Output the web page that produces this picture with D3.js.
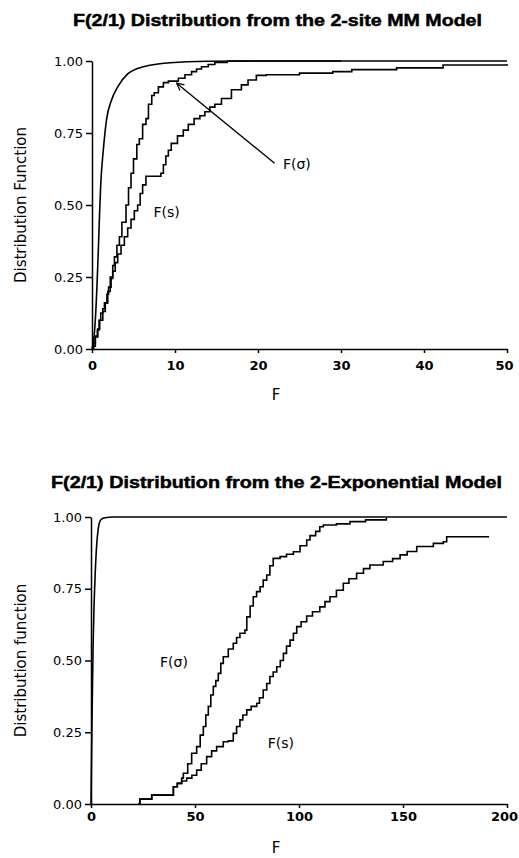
<!DOCTYPE html>
<html>
<head>
<meta charset="utf-8">
<script src="https://cdn.jsdelivr.net/npm/d3@7"></script>
<style>
  body { margin: 0; background: #fff; }
  svg { display: block; }
  .tick text { font-family: "DejaVu Sans", sans-serif; font-size: 13px; fill: #000; }
  .axis path, .axis line { stroke: #000; stroke-width: 1.5px; }
  .curve { fill: none; stroke: #000; stroke-width: 1.6px; }
  .title { font-family: "Liberation Sans", Arial, sans-serif; font-weight: bold; font-size: 17px;
           stroke: #000; stroke-width: 0.5px; }
  .lab { font-family: "DejaVu Sans", sans-serif; font-size: 15px; }
  .note { font-family: "DejaVu Sans", sans-serif; font-size: 14px; }
</style>
</head>
<body>
<svg id="chart" width="519" height="858"></svg>
<script>
/*------------------------
  -------- DATA ----------
  ------------------------*/

// top panel : 2-site MM model, F from 0 to 50
var mm_ticks_x = [0, 10, 20, 30, 40, 50];
var mm_theory = [[0,0],[0.2,0.03],[0.4,0.1],[0.6,0.22],[0.76,0.34],[0.9,0.46],[1.05,0.57],
    [1.36,0.69],[1.77,0.8],[2.3,0.86],[3.1,0.91],[4.3,0.955],[6.2,0.98],[9.4,0.994],[14,0.999],[20,1.0],[50,1.0]];
var mm_sigma = [[0,0],[0.1,0.01],[0.4,0.042],[0.7,0.07],[0.93,0.1],[1.3,0.13],[1.6,0.16],[1.9,0.2],
    [2.2,0.25],[2.5,0.29],[2.7,0.32],[3.0,0.36],[3.3,0.39],[3.6,0.44],[4.1,0.5],[4.4,0.56],[4.7,0.61],
    [5.0,0.66],[5.4,0.71],[5.7,0.73],[6.1,0.78],[6.5,0.8],[6.8,0.85],[7.2,0.88],[7.5,0.89],[8.0,0.91],
    [8.6,0.925],[9.2,0.93],[10.4,0.94],[11.2,0.952],[12,0.963],[12.6,0.972],[13.2,0.98],[14.0,0.988],
    [14.8,0.995],[16.3,1.0],[30,1.0]];
var mm_s = [[0,0],[0.2,0.02],[0.4,0.045],[0.64,0.066],[0.85,0.1],[1.05,0.125],[1.3,0.14],[1.5,0.16],
    [1.8,0.19],[2.0,0.215],[2.3,0.245],[2.5,0.27],[2.8,0.3],[3.1,0.33],[3.5,0.36],[3.9,0.39],[4.3,0.42],
    [4.7,0.45],[5.1,0.48],[5.5,0.5],[5.8,0.54],[6.1,0.57],[6.5,0.6],[8.3,0.61],[8.6,0.64],[8.9,0.67],
    [9.2,0.69],[9.55,0.714],[10.3,0.74],[11.0,0.76],[11.6,0.78],[12.3,0.8],[13.0,0.81],[13.6,0.824],
    [14.2,0.84],[14.8,0.85],[15.6,0.87],[16.8,0.9],[18.0,0.917],[18.8,0.934],[19.8,0.95],[21,0.952],
    [25,0.958],[29,0.963],[31.3,0.97],[36.7,0.976],[42.3,0.986],[50,0.99]];

// bottom panel : 2-exponential model, F from 0 to 200
var ex_ticks_x = [0, 50, 100, 150, 200];
var ex_theory = [[0,0],[0.5,0.3],[1,0.55],[1.5,0.7],[2,0.8],[2.7,0.9],[3.5,0.96],[4.3,0.985],
    [5.5,0.995],[7.5,0.998],[10,1],[200,1]];
var ex_sigma = [[22.7,0],[23.5,0.017],[27.6,0.017],[29.2,0.031],[38,0.031],[39.6,0.06],[41.5,0.072],
    [43.6,0.09],[44.4,0.107],[46.5,0.14],[48.4,0.177],[50.8,0.2],[52.5,0.24],[54,0.27],[55.2,0.31],
    [56.4,0.34],[57.6,0.38],[58.8,0.41],[60,0.43],[61.2,0.455],[62.4,0.49],[63.6,0.513],[66,0.54],
    [68.4,0.56],[70,0.58],[71.6,0.595],[74,0.606],[74.9,0.652],[76.5,0.69],[78,0.722],[79.6,0.74],
    [81.3,0.757],[82.8,0.78],[84.5,0.798],[86,0.83],[87.6,0.856],[90.9,0.862],[94,0.87],[97.3,0.879],
    [100.5,0.9],[103.7,0.92],[105.3,0.935],[108,0.95],[110,0.966],[111.7,0.972],[118,0.976],
    [124.5,0.984],[132,0.99],[142,0.997]];
var ex_s = [[22.7,0],[23.5,0.017],[27.6,0.017],[29.2,0.031],[38,0.031],[39.6,0.06],[41.5,0.072],
    [43.6,0.08],[46,0.09],[48.5,0.1],[50.8,0.118],[53,0.14],[55.6,0.165],[58,0.185],[60.4,0.2],
    [63.6,0.217],[66,0.22],[68.4,0.246],[70,0.27],[71.6,0.293],[73,0.31],[74.9,0.328],[77,0.34],
    [79.7,0.351],[81,0.37],[82.8,0.397],[84.5,0.42],[86,0.444],[87.6,0.46],[89.3,0.478],[91,0.5],
    [92.5,0.525],[94,0.55],[95.7,0.571],[97.3,0.595],[98.9,0.618],[101,0.635],[103.7,0.655],
    [106.5,0.67],[110,0.687],[112.5,0.705],[114.9,0.722],[118,0.745],[121.3,0.769],[124,0.785],
    [127.7,0.804],[131,0.82],[134.1,0.833],[140.5,0.845],[145,0.855],[148.6,0.868],[152,0.88],
    [156.6,0.897],[164.6,0.908],[169.4,0.914],[171,0.931],[191,0.934]];

var ticks_y = [0, 0.25, 0.5, 0.75, 1];

/*---------------------
  -- DISPLAY HELPERS --
  ---------------------*/
var svg = d3.select("#chart");

svg.append("defs").append("marker")
    .attr("id", "arrow")
    .attr("viewBox", "0 0 10 10")
    .attr("refX", 9).attr("refY", 5)
    .attr("markerWidth", 9).attr("markerHeight", 9)
    .attr("markerUnits", "userSpaceOnUse")
    .attr("orient", "auto")
    .append("path")
    .attr("d", "M1,1 L9,5 L1,9")
    .attr("fill", "none")
    .attr("stroke", "#000")
    .attr("stroke-width", 1.4);

function draw_panel(p) {
    var x = d3.scaleLinear().domain(p.xdom).range([p.left, p.right]);
    var y = d3.scaleLinear().domain([0, 1]).range([p.bottom, p.top]);
    var g = svg.append("g");

    g.append("text")
        .attr("class", "title")
        .attr("x", p.title_x).attr("y", p.title_y)
        .attr("textLength", p.title_w)
        .attr("lengthAdjust", "spacingAndGlyphs")
        .text(p.title);

    g.append("g")
        .attr("class", "axis")
        .attr("transform", "translate(" + p.left + ",0)")
        .call(d3.axisLeft(y).tickValues(ticks_y).tickFormat(d3.format(".2f"))
            .tickSize(6).tickSizeOuter(0).tickPadding(3));

    var xa = g.append("g")
        .attr("class", "axis")
        .attr("transform", "translate(0," + p.bottom + ")")
        .call(d3.axisBottom(x).tickValues(p.xticks).tickFormat(d3.format("d"))
            .tickSize(4).tickSizeOuter(0).tickPadding(p.xpad));
    xa.selectAll(".tick text").style("font-weight", "bold");
    // keep the last label inside the page
    xa.selectAll(".tick text").filter(function(d) { return x(d) + 14 > 519; })
        .attr("dx", -3);

    g.append("text")
        .attr("class", "lab")
        .attr("transform", "translate(" + p.ylab_x + "," + ((p.top + p.bottom) / 2) + ") rotate(-90)")
        .attr("text-anchor", "middle")
        .text(p.ylab);

    g.append("text")
        .attr("class", "lab")
        .attr("x", p.xlab_x).attr("y", p.xlab_y)
        .attr("text-anchor", "middle")
        .text("F");

    var smooth = d3.line().x(function(d) { return x(d[0]); }).y(function(d) { return y(d[1]); })
        .curve(d3.curveMonotoneX);
    var step = d3.line().x(function(d) { return x(d[0]); }).y(function(d) { return y(d[1]); })
        .curve(d3.curveStepAfter);

    g.append("path").attr("class", "curve").attr("d", smooth(p.theory));
    g.append("path").attr("class", "curve").attr("d", step(p.sigma));
    g.append("path").attr("class", "curve").attr("d", step(p.s));

    p.notes.forEach(function(n) {
        g.append("text")
            .attr("class", "note")
            .attr("x", x(n.f)).attr("y", y(n.d))
            .text(n.txt);
    });

    if (p.arrow) {
        g.append("line")
            .attr("x1", x(p.arrow[0][0])).attr("y1", y(p.arrow[0][1]))
            .attr("x2", x(p.arrow[1][0])).attr("y2", y(p.arrow[1][1]))
            .attr("stroke", "#000").attr("stroke-width", 1.4)
            .attr("marker-end", "url(#arrow)");
    }
}

/*---------------------
        -- RUN --
  ---------------------*/
draw_panel({
    title: "F(2/1) Distribution from the 2-site MM Model",
    title_x: 73, title_y: 26, title_w: 409,
    xdom: [0, 50], xticks: mm_ticks_x,
    left: 92, right: 507, top: 61, bottom: 349, xpad: 8,
    ylab: "Distribution Function", ylab_x: 26,
    xlab_x: 276, xlab_y: 400,
    theory: mm_theory, sigma: mm_sigma, s: mm_s,
    notes: [{f: 23, d: 0.625, txt: "F(\u03c3)"}, {f: 7.4, d: 0.458, txt: "F(s)"}],
    arrow: [[22, 0.645], [10.2, 0.923]]
});

draw_panel({
    title: "F(2/1) Distribution from the 2-Exponential Model",
    title_x: 51, title_y: 488, title_w: 451,
    xdom: [0, 200], xticks: ex_ticks_x,
    left: 91, right: 507, top: 517, bottom: 804, xpad: 4,
    ylab: "Distribution function", ylab_x: 26,
    xlab_x: 276, xlab_y: 853,
    theory: ex_theory, sigma: ex_sigma, s: ex_s,
    notes: [{f: 33.2, d: 0.477, txt: "F(\u03c3)"}, {f: 85, d: 0.195, txt: "F(s)"}],
    arrow: null
});
</script>
</body>
</html>
